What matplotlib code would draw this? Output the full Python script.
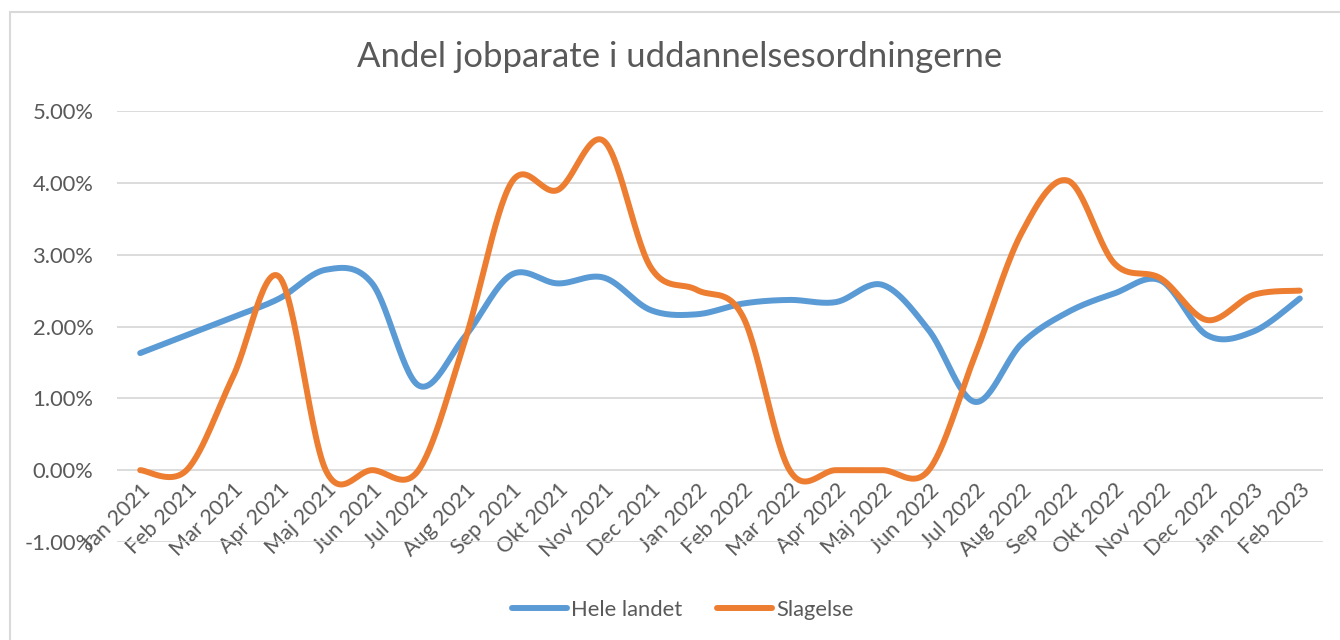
import numpy as np
import matplotlib.pyplot as plt
from matplotlib.patches import Rectangle
from matplotlib.ticker import FuncFormatter

plt.rcParams['font.family'] = ['Lato', 'DejaVu Sans']

# data (andel i procent)
maaneder = ['Jan 2021', 'Feb 2021', 'Mar 2021', 'Apr 2021', 'Maj 2021', 'Jun 2021',
            'Jul 2021', 'Aug 2021', 'Sep 2021', 'Okt 2021', 'Nov 2021', 'Dec 2021',
            'Jan 2022', 'Feb 2022', 'Mar 2022', 'Apr 2022', 'Maj 2022', 'Jun 2022',
            'Jul 2022', 'Aug 2022', 'Sep 2022', 'Okt 2022', 'Nov 2022', 'Dec 2022',
            'Jan 2023', 'Feb 2023']
hele_landet = [1.63, 1.88, 2.13, 2.39, 2.79, 2.60, 1.18, 1.86, 2.72, 2.60, 2.68, 2.23,
               2.17, 2.32, 2.37, 2.34, 2.58, 1.95, 0.95, 1.76, 2.20, 2.46, 2.64, 1.88,
               1.93, 2.39]
slagelse = [0.0, 0.0, 1.30, 2.69, 0.0, 0.0, 0.0, 1.80, 4.00, 3.90, 4.58, 2.83,
            2.51, 2.13, 0.0, 0.0, 0.0, 0.0, 1.60, 3.30, 4.03, 2.88, 2.67, 2.09,
            2.44, 2.50]

BLAA = '#5B9BD5'
ORANGE = '#ED7D31'
GRAA = '#595959'


def glat(y, n=30):
    # excel-agtig udglatning (catmull-rom som bezier)
    y = np.asarray(y, dtype=float) / 100
    x = np.arange(len(y), dtype=float)
    px = np.concatenate([[x[0]], x, [x[-1]]])
    py = np.concatenate([[y[0]], y, [y[-1]]])
    xs, ys = [], []
    t = np.linspace(0, 1, n)
    for i in range(1, len(px) - 2):
        p0 = np.array([px[i], py[i]])
        p3 = np.array([px[i + 1], py[i + 1]])
        p1 = p0 + (np.array([px[i + 1], py[i + 1]]) - np.array([px[i - 1], py[i - 1]])) / 6
        p2 = p3 - (np.array([px[i + 2], py[i + 2]]) - np.array([px[i], py[i]])) / 6
        b = ((1 - t) ** 3)[:, None] * p0 + (3 * (1 - t) ** 2 * t)[:, None] * p1 \
            + (3 * (1 - t) * t ** 2)[:, None] * p2 + (t ** 3)[:, None] * p3
        xs.extend(b[:, 0])
        ys.extend(b[:, 1])
    return np.array(xs), np.array(ys)


fig = plt.figure(figsize=(13.4, 6.4), dpi=100)
ax = fig.add_axes([117 / 1340, 1 - 542 / 640, 1206 / 1340, 431 / 640])

for serie, farve, navn in [(hele_landet, BLAA, 'Hele landet'), (slagelse, ORANGE, 'Slagelse')]:
    gx, gy = glat(serie)
    ax.plot(gx, gy, color=farve, lw=4.3, solid_capstyle='round', label=navn, zorder=3)

ax.set_xlim(-0.5, len(maaneder) - 0.5)
ax.set_ylim(-0.01, 0.05)
ax.spines['bottom'].set_position(('data', 0))
for s in ax.spines.values():
    s.set_visible(False)
ax.set_yticks(np.arange(-0.01, 0.0501, 0.01))
ax.yaxis.set_major_formatter(FuncFormatter(lambda v, p: f'{v * 100:.2f}%'))
ax.grid(axis='y', color='#D9D9D9', lw=1.3)
ax.set_axisbelow(True)

ax.set_xticks(range(len(maaneder)))
ax.set_xticklabels(maaneder)
ax.tick_params(axis='x', length=0, pad=7, labelsize=15.5, colors=GRAA)
ax.tick_params(axis='y', length=0, pad=17, labelsize=15.8, colors=GRAA)
for lbl in ax.get_xticklabels():
    lbl.set_rotation(45)
    lbl.set_ha('right')
    lbl.set_va('top')
    lbl.set_rotation_mode('anchor')

fig.text(680 / 1340, 1 - 57 / 640, 'Andel jobparate i uddannelsesordningerne',
         ha='center', va='center', fontsize=25, color=GRAA)

fig.legend(loc='center', bbox_to_anchor=(683 / 1340, 1 - 610 / 640), ncol=2,
           frameon=False, fontsize=15.8, labelcolor=GRAA, handlelength=2.5,
           columnspacing=1.6, handletextpad=0.2)

fig.patches.append(Rectangle((10 / 1340, -0.1), 1.2, 1.1 - 12 / 640, transform=fig.transFigure,
                             fill=False, edgecolor='#D9D9D9', lw=1.5))

fig.savefig('out.png', dpi=100)
